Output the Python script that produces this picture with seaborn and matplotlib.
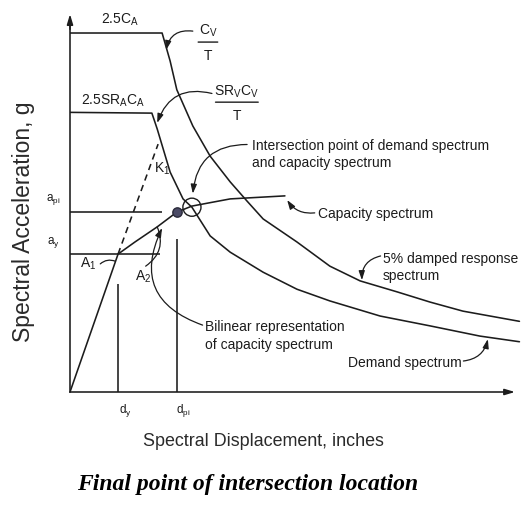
import matplotlib
matplotlib.use("Agg")
import matplotlib.pyplot as plt
import seaborn as sns

# Spectral displacement (in) / spectral acceleration (g) pairs for each curve
sd_5pct = [0.0, 2.07, 2.25, 2.40, 2.76, 3.15, 3.60, 3.98, 4.34, 5.10, 5.84, 6.52, 7.35, 8.09, 8.83, 10.10]
sa_5pct = [0.95, 0.95, 0.876, 0.80, 0.704, 0.624, 0.556, 0.505, 0.458, 0.397, 0.333, 0.294, 0.265, 0.238, 0.214, 0.187]

sd_demand = [0.0, 1.84, 1.96, 2.25, 2.54, 2.74, 3.15, 3.60, 4.34, 5.10, 5.84, 6.97, 8.09, 9.21, 10.10]
sa_demand = [0.74, 0.738, 0.696, 0.582, 0.511, 0.489, 0.413, 0.370, 0.317, 0.272, 0.241, 0.201, 0.175, 0.148, 0.133]

sd_capacity = [0.0, 1.08, 1.46, 1.96, 2.40, 2.74, 3.60, 4.83]
sa_capacity = [0.0, 0.365, 0.397, 0.437, 0.476, 0.492, 0.511, 0.519]

# Initial stiffness K1 extension beyond the yield point
sd_k1 = [1.08, 1.98]
sa_k1 = [0.365, 0.656]

# Yield point and performance point
d_y, a_y = 1.08, 0.365
d_pi, a_pi = 2.40, 0.476
sd_intersect, sa_intersect = 2.74, 0.489

ink = "#1c1c1c"
sns.set_theme(style="white")
plt.rcParams["font.family"] = ["Liberation Sans", "DejaVu Sans"]
plt.rcParams["mathtext.fontset"] = "custom"
plt.rcParams["mathtext.rm"] = "Liberation Sans"
plt.rcParams["mathtext.it"] = "Liberation Sans"

fig = plt.figure(figsize=(5.23, 5.06), dpi=100)
ax = fig.add_axes([70 / 523, 113 / 506, 453 / 523, 393 / 506])
ax.set_xlim(0, 10.18)
ax.set_ylim(0, 1.04)

lw = 1.15
for sd, sa in [(sd_5pct, sa_5pct), (sd_demand, sa_demand), (sd_capacity, sa_capacity)]:
    sns.lineplot(x=sd, y=sa, ax=ax, sort=False, estimator=None, color=ink, lw=lw)
sns.lineplot(x=sd_k1, y=sa_k1, ax=ax, sort=False, estimator=None, color=ink, lw=lw,
             linestyle=(0, (4, 3)))

# Reference lines for yield and performance point
ax.hlines([a_pi, a_y], 0, [2.07, 2.02], color=ink, lw=lw)
ax.vlines([d_y, d_pi], 0, [0.286, 0.405], color=ink, lw=lw)

# Markers at the performance point and at the intersection
sns.scatterplot(x=[d_pi], y=[a_pi], ax=ax, s=45, color="#4b4b66", edgecolor="#2a2a3a",
                linewidth=1.0, zorder=5)
sns.scatterplot(x=[sd_intersect], y=[sa_intersect], ax=ax, s=170, facecolor="none",
                edgecolor=ink, linewidth=1.0, zorder=5)

# Axes drawn as arrows
for side in ["top", "right"]:
    ax.spines[side].set_visible(False)
for side in ["left", "bottom"]:
    ax.spines[side].set_color(ink)
    ax.spines[side].set_linewidth(lw)
ax.spines["left"].set_bounds(0, 0.98)
ax.spines["bottom"].set_bounds(0, 9.9)
ax.set_xticks([])
ax.set_yticks([])
arrow_axis = dict(arrowstyle="-|>,head_length=0.5,head_width=0.15", color=ink, lw=lw,
                  shrinkA=0, shrinkB=0)
ax.annotate("", xy=(0, 1.0), xytext=(0, 0.96), arrowprops=arrow_axis, annotation_clip=False)
ax.annotate("", xy=(10.0, 0), xytext=(9.8, 0), arrowprops=arrow_axis, annotation_clip=False)

fs = 10
txt = dict(color=ink, fontsize=fs, clip_on=False)
small = dict(color=ink, fontsize=8.5, clip_on=False)
ax.text(1.12, 0.987, r"2.5C$_\mathregular{A}$", ha="center", va="center", **txt)
ax.text(0.97, 0.772, r"2.5SR$_\mathregular{A}$C$_\mathregular{A}$", ha="center", va="center", **txt)

# Stacked fractions C_V/T and SR_V C_V/T
def fraction(num, x, y_num, y_bar, y_den, half_width):
    ax.text(x, y_num, num, ha="center", va="center", **txt)
    ax.text(x, y_den, "T", ha="center", va="center", **txt)
    ax.annotate("", xy=(x + half_width, y_bar), xytext=(x - half_width, y_bar),
                annotation_clip=False,
                arrowprops=dict(arrowstyle="-", color=ink, lw=1.0, shrinkA=0, shrinkB=0))

fraction(r"C$_\mathregular{V}$", 3.10, 0.958, 0.926, 0.892, 0.22)
fraction(r"SR$_\mathregular{V}$C$_\mathregular{V}$", 3.75, 0.796, 0.767, 0.733, 0.48)

ax.text(4.09, 0.632, "Intersection point of demand spectrum\nand capacity spectrum",
        ha="left", va="center", linespacing=1.3, **txt)
ax.text(5.57, 0.474, "Capacity spectrum", ha="left", va="center", **txt)
ax.text(7.03, 0.332, "5% damped response\nspectrum", ha="left", va="center", linespacing=1.3, **txt)
ax.text(3.03, 0.151, "Bilinear representation\nof capacity spectrum", ha="left", va="center",
        linespacing=1.3, **txt)
ax.text(8.80, 0.079, "Demand spectrum", ha="right", va="center", **txt)
ax.text(0.40, 0.341, r"A$_\mathregular{1}$", ha="center", va="center", **txt)
ax.text(1.64, 0.307, r"A$_\mathregular{2}$", ha="center", va="center", **txt)
ax.text(2.08, 0.592, r"K$_\mathregular{1}$", ha="center", va="center", **txt)
ax.text(-0.38, 0.513, r"a$_\mathregular{pi}$", ha="center", va="center", **small)
ax.text(-0.38, 0.397, r"a$_\mathregular{y}$", ha="center", va="center", **small)
ax.text(1.24, -0.045, r"d$_\mathregular{y}$", ha="center", va="center", **small)
ax.text(2.54, -0.045, r"d$_\mathregular{pi}$", ha="center", va="center", **small)

# Curved leaders from the labels to the curves
def leader(start, tip, rad, head=True):
    style = "-|>,head_length=0.45,head_width=0.15" if head else "-"
    ax.annotate("", xy=tip, xytext=start, annotation_clip=False,
                arrowprops=dict(arrowstyle=style, color=ink, lw=0.9, shrinkA=0, shrinkB=0,
                                connectionstyle=f"arc3,rad={rad}"))

leader((2.76, 0.955), (2.16, 0.905), 0.45)
leader((3.19, 0.790), (1.96, 0.712), 0.45)
leader((3.98, 0.655), (2.76, 0.525), 0.45)
leader((5.50, 0.474), (4.88, 0.508), -0.3)
leader((6.98, 0.360), (6.56, 0.296), 0.4)
leader((2.98, 0.177), (2.07, 0.434), -0.55)
leader((8.84, 0.082), (9.39, 0.140), 0.35)
leader((0.68, 0.339), (1.02, 0.346), -0.3, head=False)
leader((1.70, 0.333), (1.96, 0.437), 0.4, head=False)

ax.set_xlabel("Spectral Displacement, inches", fontsize=12.9, color="#2a2a2a")
ax.set_ylabel("Spectral Acceleration, g", fontsize=16.5, color="#2a2a2a")
ax.yaxis.set_label_coords(-0.077, 0.435)
ax.xaxis.set_label_coords(0.428, -0.102)

fig.text(248 / 523, 1 - 485 / 506, "Final point of intersection location",
         ha="center", va="center", fontsize=17, fontweight="bold", fontstyle="italic",
         family=["Liberation Serif", "DejaVu Serif"], color="black")

fig.savefig("out.png", dpi=100)
